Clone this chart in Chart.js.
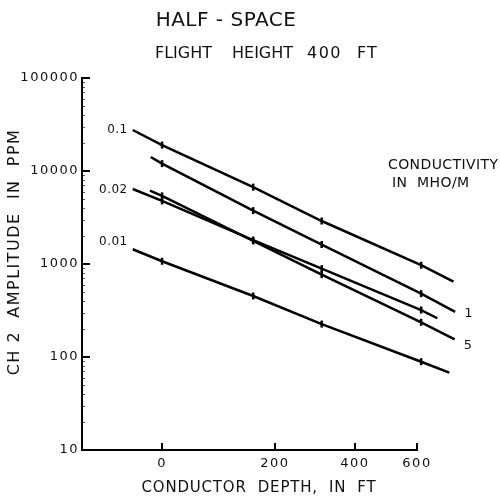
<!DOCTYPE html>
<html>
<head>
<meta charset="utf-8">
<script src="https://cdn.jsdelivr.net/npm/chart.js@4.4.0/dist/chart.umd.min.js"></script>
<style>
  html, body { margin: 0; padding: 0; background: #fff; }
  canvas { display: block; }
</style>
</head>
<body>
<canvas id="grafico" width="500" height="497"></canvas>
<script>
const FLIGHT_HEIGHT = 400;

// conductivity of each curve (mho/m)
const conductivities = ['0.1', '1', '0.02', '5', '0.01'];
// each curve: start of line, the four plotted depths, end of line
const startDepths = [-40, -16, -40, -17, -40];
const markDepths = [0, 155, 310, 615];
const endDepths = [740, 747, 676, 745, 723];

// CH 2 amplitude in ppm, same order: start, marks, end
const amp01 = [27600, 19000, 6700, 2900, 970, 646];
const amp1 = [14150, 12000, 3750, 1620, 480, 305];
const amp002 = [6400, 4770, 1810, 890, 320, 261];
const amp5 = [6140, 5400, 1770, 769, 236, 155];
const amp001 = [1440, 1070, 453, 226, 89, 68];
const amplitudes = [amp01, amp1, amp002, amp5, amp001];

const yTicks = [10, 100, 1000, 10000, 100000];
const xTicks = [0, 200, 400, 600];

const datasets = conductivities.map((c, i) => {
    const depths = [startDepths[i], ...markDepths, endDepths[i]];
    return {
        label: c,
        data: depths.map((d, j) => ({ x: d + FLIGHT_HEIGHT, y: amplitudes[i][j] })),
        borderColor: '#000',
        backgroundColor: '#000',
        borderWidth: 2.5,
        tension: 0,
        clip: false,
        pointStyle: 'line',
        rotation: 90,
        pointRadius: depths.map((d, j) => (j === 0 || j === depths.length - 1) ? 0 : 3.5),
        pointBorderWidth: 2.5,
        pointBorderColor: '#000'
    };
});

// labels beside the curves: [dataset index, side, dy]
const curveLabels = [[0, 'left', 0], [2, 'left', 1], [4, 'left', -7], [1, 'right', 2], [3, 'right', 6]];

const textos = {
    id: 'textos',
    beforeDraw(chart) {
        chart.ctx.letterSpacing = '1.5px';
    },
    afterDraw(chart) {
        const { ctx, chartArea: a, scales: { x, y } } = chart;
        ctx.save();
        ctx.strokeStyle = '#000';

        // tick marks inside the axes
        ctx.lineWidth = 2;
        y.ticks.forEach(t => {
            const p = Math.round(y.getPixelForValue(t.value));
            ctx.beginPath(); ctx.moveTo(a.left, p); ctx.lineTo(a.left + 8, p); ctx.stroke();
        });
        x.ticks.forEach(t => {
            const p = Math.round(x.getPixelForValue(t.value));
            ctx.beginPath(); ctx.moveTo(p, a.bottom); ctx.lineTo(p, a.bottom - 7); ctx.stroke();
        });
        // minor log ticks on y
        ctx.lineWidth = 1;
        ctx.strokeStyle = '#555';
        for (let d = 10; d < 100000; d *= 10) {
            for (let k = 2; k < 10; k++) {
                const p = Math.round(y.getPixelForValue(k * d)) + 0.5;
                ctx.beginPath(); ctx.moveTo(a.left + 1, p); ctx.lineTo(a.left + 3, p); ctx.stroke();
            }
        }

        ctx.fillStyle = '#111';
        ctx.textBaseline = 'middle';
        const txt = (s, px, py, size, align, spacing) => {
            ctx.font = size + 'px "DejaVu Sans"';
            ctx.letterSpacing = spacing + 'px';
            ctx.textAlign = align;
            ctx.fillText(s, px, py);
        };

        txt('HALF - SPACE', 226, 21, 20, 'center', 0.5);
        txt('FLIGHT', 155, 54, 16, 'left', 0);
        txt('HEIGHT', 232, 54, 16, 'left', 0);
        txt('400', 307, 54, 16, 'left', 1.5);
        txt('FT', 357, 54, 16, 'left', 1);

        txt('CONDUCTIVITY', 388, 165, 14, 'left', 0.4);
        txt('IN  MHO/M', 392, 183, 14, 'left', 0.4);

        txt('CONDUCTOR  DEPTH,  IN  FT', 259, 488, 15, 'center', 0.8);

        ctx.save();
        ctx.translate(15, 252);
        ctx.rotate(-Math.PI / 2);
        txt('CH 2  AMPLITUDE  IN  PPM', 0, 0, 16, 'center', 1.5);
        ctx.restore();

        curveLabels.forEach(([i, side, dy]) => {
            const pts = chart.getDatasetMeta(i).data;
            const p = side === 'left' ? pts[0] : pts[pts.length - 1];
            if (side === 'left') txt(conductivities[i], p.x - 5, p.y + dy, 12, 'right', 0.5);
            else txt(conductivities[i], p.x + 9, p.y + dy, 13, 'left', 0);
        });

        ctx.restore();
        ctx.letterSpacing = '0px';
    }
};

new Chart(document.getElementById('grafico'), {
    type: 'line',
    data: { datasets },
    options: {
        responsive: false,
        animation: false,
        layout: { padding: { top: 78, right: 83, left: 0, bottom: 0 } },
        scales: {
            x: {
                type: 'logarithmic',
                // axis runs from depth -100 to 600; lines run past its end
                afterDataLimits: s => { s.min = -100 + FLIGHT_HEIGHT; s.max = 600 + FLIGHT_HEIGHT; },
                afterBuildTicks: s => { s.ticks = xTicks.map(v => ({ value: v + FLIGHT_HEIGHT })); },
                afterFit: s => { s.height = 47; },
                ticks: {
                    callback: v => String(v - FLIGHT_HEIGHT),
                    color: '#111',
                    padding: 6,
                    maxRotation: 0,
                    font: { size: 13, family: 'DejaVu Sans' }
                },
                grid: { display: false, drawTicks: false },
                border: { display: true, color: '#000', width: 2 }
            },
            y: {
                type: 'logarithmic',
                min: 10,
                max: 100000,
                afterBuildTicks: s => { s.ticks = yTicks.map(v => ({ value: v })); },
                afterFit: s => { s.width = 82; },
                ticks: {
                    callback: v => String(v),
                    color: '#111',
                    padding: 3,
                    font: { size: 13, family: 'DejaVu Sans' }
                },
                grid: { display: false, drawTicks: false },
                border: { display: true, color: '#000', width: 2 }
            }
        },
        plugins: {
            legend: { display: false },
            tooltip: { enabled: false }
        }
    },
    plugins: [textos]
});
</script>
</body>
</html>
